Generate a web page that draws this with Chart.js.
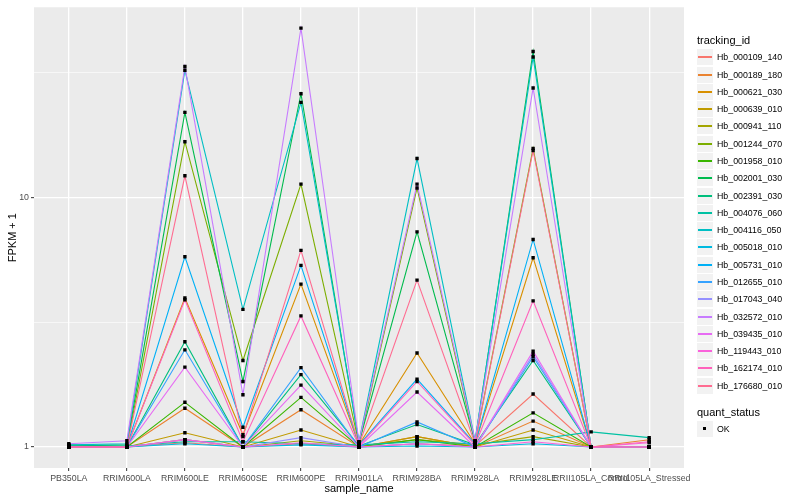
<!DOCTYPE html>
<html>
<head>
<meta charset="utf-8">
<script src="https://cdn.jsdelivr.net/npm/chart.js@4.4.1/dist/chart.umd.min.js"></script>
<style>
  body { margin: 0; background: #fff; }
  #wrap { position: relative; width: 800px; height: 500px; font-family: 'Liberation Sans', Arial, sans-serif; }
  #grafico { position: absolute; left: 0; top: 0; }
  .leg-title { position: absolute; left: 697px; font-size: 11px; line-height: 13px; color: #000; white-space: nowrap; }
  .leg-item { position: absolute; left: 697px; width: 100px; height: 17px; }
  .leg-key { position: absolute; left: 0; top: 0; width: 16px; height: 16px; background: #F2F2F2; }
  .leg-line { position: absolute; left: 1px; width: 14px; top: 7px; height: 1.5px; }
  .leg-dot { position: absolute; left: 6px; top: 6px; width: 3px; height: 3px; background: #000; }
  .leg-text { position: absolute; left: 20px; top: 0; font-size: 8.8px; line-height: 16px; color: #000; white-space: nowrap; }
</style>
</head>
<body>
<div id="wrap">
  <canvas id="grafico" width="800" height="500"></canvas>
  <div id="legenda"></div>
</div>
<script>
const categories = ['PB350LA', 'RRIM600LA', 'RRIM600LE', 'RRIM600SE', 'RRIM600PE', 'RRIM901LA',
  'RRIM928BA', 'RRIM928LA', 'RRIM928LE', 'RRII105LA_Control', 'RRII105LA_Stressed'];

const trackingIds = ['Hb_000109_140', 'Hb_000189_180', 'Hb_000621_030', 'Hb_000639_010', 'Hb_000941_110',
  'Hb_001244_070', 'Hb_001958_010', 'Hb_002001_030', 'Hb_002391_030', 'Hb_004076_060',
  'Hb_004116_050', 'Hb_005018_010', 'Hb_005731_010', 'Hb_012655_010', 'Hb_017043_040',
  'Hb_032572_010', 'Hb_039435_010', 'Hb_119443_010', 'Hb_162174_010', 'Hb_176680_010'];

const colors = ['#F8766D', '#EA8331', '#D89000', '#C09B00', '#A3A500', '#7CAE00', '#39B600', '#00BB4E',
  '#00BF7D', '#00C1A3', '#00BFC4', '#00BAE0', '#00B0F6', '#35A2FF', '#9590FF', '#C77CFF',
  '#E76BF3', '#FA62DB', '#FF62BC', '#FF6C91'];

// FPKM + 1, one array per tracking_id, in the order of categories
const hb000109 = [1.00, 1.00, 1.04, 1.00, 1.03, 1.00, 1.03, 1.01, 1.63, 1.00, 1.00];
const hb000189 = [1.00, 1.00, 1.43, 1.00, 1.41, 1.00, 1.10, 1.00, 1.27, 1.00, 1.07];
const hb000621 = [1.00, 1.00, 3.95, 1.12, 4.49, 1.02, 2.38, 1.03, 5.73, 1.00, 1.00];
const hb000639 = [1.00, 1.00, 1.14, 1.00, 1.17, 1.00, 1.10, 1.00, 1.17, 1.00, 1.00];
const hb000941 = [1.01, 1.00, 1.07, 1.00, 1.06, 1.01, 1.07, 1.02, 1.10, 1.00, 1.00];
const hb001244 = [1.02, 1.00, 16.7, 2.22, 11.3, 1.03, 10.9, 1.04, 15.7, 1.00, 1.00];
const hb001958 = [1.00, 1.00, 1.51, 1.00, 1.58, 1.00, 1.07, 1.00, 1.37, 1.00, 1.00];
const hb002001 = [1.01, 1.02, 21.9, 1.83, 26.0, 1.04, 7.27, 1.05, 38.4, 1.00, 1.00];
const hb002391 = [1.00, 1.00, 2.64, 1.00, 1.95, 1.01, 1.23, 1.02, 2.22, 1.00, 1.00];
const hb004076 = [1.01, 1.01, 1.05, 1.05, 1.03, 1.02, 1.05, 1.03, 1.07, 1.15, 1.09];
const hb004116 = [1.02, 1.03, 32.3, 3.56, 24.0, 1.05, 14.3, 1.06, 36.5, 1.00, 1.00];
const hb005018 = [1.00, 1.00, 1.03, 1.00, 1.02, 1.00, 1.01, 1.00, 1.03, 1.00, 1.00];
const hb005731 = [1.00, 1.00, 5.78, 1.20, 5.34, 1.02, 1.87, 1.03, 6.78, 1.00, 1.00];
const hb012655 = [1.00, 1.00, 2.45, 1.00, 2.08, 1.00, 1.26, 1.00, 2.30, 1.00, 1.00];
const hb017043 = [1.00, 1.00, 1.07, 1.00, 1.09, 1.00, 1.03, 1.00, 2.35, 1.00, 1.00];
const hb032572 = [1.03, 1.06, 33.4, 1.62, 47.6, 1.05, 11.3, 1.06, 27.4, 1.00, 1.00];
const hb039435 = [1.00, 1.00, 2.09, 1.00, 1.77, 1.00, 1.66, 1.00, 2.42, 1.00, 1.00];
const hb119443 = [1.00, 1.00, 1.07, 1.00, 1.04, 1.00, 1.03, 1.00, 1.05, 1.00, 1.04];
const hb162174 = [1.00, 1.00, 3.89, 1.05, 3.35, 1.01, 1.83, 1.02, 3.85, 1.00, 1.05];
const hb176680 = [1.00, 1.00, 12.2, 1.10, 6.13, 1.02, 4.66, 1.03, 15.4, 1.00, 1.00];

const series = [hb000109, hb000189, hb000621, hb000639, hb000941, hb001244, hb001958, hb002001,
  hb002391, hb004076, hb004116, hb005018, hb005731, hb012655, hb017043, hb032572,
  hb039435, hb119443, hb162174, hb176680];

const yTickValues = [1, 10];
const yTickLabels = ['1', '10'];
const yMinorValues = [3.1623, 31.623];

Chart.defaults.font.family = "'Liberation Sans', Arial, sans-serif";

function pontos(valores) {
  return valores.map(function (v, i) { return { x: i, y: v }; });
}

const datasets = [];
series.forEach(function (valores, i) {
  datasets.push({
    label: trackingIds[i],
    data: pontos(valores),
    borderColor: colors[i],
    borderWidth: 1.1,
    pointRadius: 0,
    fill: false,
    order: 20 - i
  });
});
series.forEach(function (valores, i) {
  datasets.push({
    label: trackingIds[i] + ' OK',
    data: pontos(valores),
    showLine: false,
    pointStyle: 'rect',
    pointRadius: 2.4,
    pointBorderWidth: 0,
    pointBackgroundColor: '#000',
    order: 0
  });
});

const fundoPainel = {
  id: 'fundoPainel',
  beforeDraw(chart) {
    const a = chart.chartArea;
    const c = chart.ctx;
    c.save();
    c.fillStyle = '#EBEBEB';
    c.fillRect(a.left, a.top, a.right - a.left, a.bottom - a.top);
    c.restore();
  }
};

const ctx = document.getElementById('grafico').getContext('2d');
new Chart(ctx, {
  type: 'line',
  data: { datasets: datasets },
  plugins: [fundoPainel],
  options: {
    responsive: false,
    animation: false,
    layout: { padding: { top: 5, right: 116, left: 0, bottom: 0 } },
    plugins: { legend: { display: false }, tooltip: { enabled: false } },
    scales: {
      x: {
        type: 'linear',
        min: -0.6,
        max: categories.length - 0.4,
        afterBuildTicks: function (scale) {
          scale.ticks = categories.map(function (c, i) { return { value: i }; });
        },
        afterFit: function (scale) { scale.height = 32; },
        ticks: {
          autoSkip: false, maxRotation: 0, minRotation: 0, padding: 2,
          color: '#4D4D4D', font: { size: 8.8 },
          callback: function (v) { return categories[v]; }
        },
        grid: { color: '#FFFFFF', lineWidth: 1.3, tickColor: '#333333', tickLength: 3, tickWidth: 1 },
        border: { display: false },
        title: { display: true, text: 'sample_name', color: '#000', font: { size: 11 }, padding: { top: 0, bottom: 4 } }
      },
      y: {
        type: 'logarithmic',
        min: 0.824,
        max: 57.7,
        afterBuildTicks: function (scale) {
          scale.ticks = yTickValues.concat(yMinorValues).sort(function (a, b) { return a - b; })
            .map(function (v) { return { value: v }; });
        },
        afterFit: function (scale) { scale.width = 34; },
        ticks: {
          padding: 2, color: '#4D4D4D', font: { size: 8.8 },
          callback: function (v) {
            const k = yTickValues.indexOf(v);
            return k >= 0 ? yTickLabels[k] : '';
          }
        },
        grid: {
          color: '#FFFFFF',
          lineWidth: function (c) { return yTickValues.indexOf(c.tick.value) >= 0 ? 1.3 : 0.6; },
          tickColor: function (c) { return yTickValues.indexOf(c.tick.value) >= 0 ? '#333333' : 'rgba(0,0,0,0)'; },
          tickLength: 3, tickWidth: 1
        },
        border: { display: false },
        title: { display: true, text: 'FPKM + 1', color: '#000', font: { size: 11 }, padding: { top: 6, bottom: 0 } }
      }
    }
  }
});

// legenda no estilo ggplot
const legenda = document.getElementById('legenda');
function addTitulo(texto, centro) {
  const d = document.createElement('div');
  d.className = 'leg-title';
  d.style.top = Math.round(centro - 6.5) + 'px';
  d.textContent = texto;
  legenda.appendChild(d);
}
function addItem(texto, centro, cor) {
  const item = document.createElement('div');
  item.className = 'leg-item';
  item.style.top = Math.round(centro - 8) + 'px';
  const key = document.createElement('div');
  key.className = 'leg-key';
  const marca = document.createElement('div');
  if (cor) {
    marca.className = 'leg-line';
    marca.style.background = cor;
  } else {
    marca.className = 'leg-dot';
  }
  key.appendChild(marca);
  const t = document.createElement('div');
  t.className = 'leg-text';
  t.textContent = texto;
  item.appendChild(key);
  item.appendChild(t);
  legenda.appendChild(item);
}
addTitulo('tracking_id', 40.5);
trackingIds.forEach(function (id, i) { addItem(id, 57.3 + i * 17.28, colors[i]); });
addTitulo('quant_status', 412.3);
addItem('OK', 429.3, null);
</script>
</body>
</html>
